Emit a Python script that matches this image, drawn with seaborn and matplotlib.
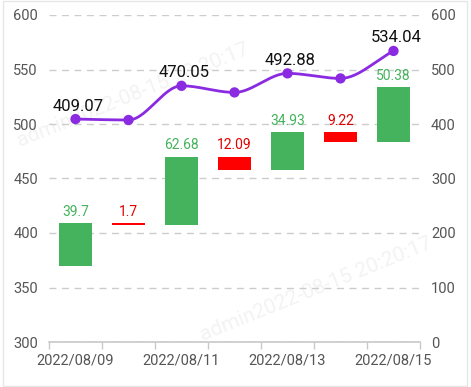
import numpy as np
import pandas as pd
import seaborn as sns
import matplotlib.pyplot as plt
from matplotlib.patches import Rectangle

# data
dates = ["2022/08/09", "2022/08/10", "2022/08/11", "2022/08/12",
         "2022/08/13", "2022/08/14", "2022/08/15"]
changes = [39.7, -1.7, 62.68, -12.09, 34.93, -9.22, 50.38]
totals = [409.07, 407.37, 470.05, 457.96, 492.88, 483.66, 534.04]
shown_totals = [0, 2, 4, 6]
left_ticks = [300, 350, 400, 450, 500, 550, 600]
right_ticks = [0, 100, 200, 300, 400, 500, 600]
watermark = "admin2022-08-15 20:20:17"

GREEN = "#45b35e"
RED = "#ff0000"
PURPLE = "#8a2be2"


def pchip(x, y, xs):
    # monotone cubic, keeps the smooth line from overshooting
    x = np.asarray(x, float)
    y = np.asarray(y, float)
    h = np.diff(x)
    d = np.diff(y) / h
    m = np.zeros_like(y)
    for i in range(1, len(y) - 1):
        if d[i - 1] * d[i] > 0:
            w1 = 2 * h[i] + h[i - 1]
            w2 = h[i] + 2 * h[i - 1]
            m[i] = (w1 + w2) / (w1 / d[i - 1] + w2 / d[i])
    m[0] = d[0]
    m[-1] = d[-1]
    out = np.empty_like(xs)
    for j, xv in enumerate(xs):
        i = min(np.searchsorted(x, xv, side="right") - 1, len(x) - 2)
        t = (xv - x[i]) / h[i]
        h00 = 2 * t**3 - 3 * t**2 + 1
        h10 = t**3 - 2 * t**2 + t
        h01 = -2 * t**3 + 3 * t**2
        h11 = t**3 - t**2
        out[j] = h00 * y[i] + h10 * h[i] * m[i] + h01 * y[i + 1] + h11 * h[i] * m[i + 1]
    return out


sns.set_theme(style="white")
plt.rcParams["font.family"] = ["Roboto", "DejaVu Sans"]

starts = [t - c for t, c in zip(totals, changes)]
df = pd.DataFrame({"date": dates, "size": np.abs(changes),
                   "base": np.minimum(starts, totals)})
colors = [GREEN if c > 0 else RED for c in changes]

fig = plt.figure(figsize=(4.71, 3.87), dpi=100)

# faint watermark, behind everything
for (wx, wy) in [(0.03, 0.62), (0.42, 0.12)]:
    fig.text(wx, wy, watermark, rotation=22, fontsize=15,
             color="#f3f3f3", zorder=-5)

ax = fig.add_axes([49 / 471, 45 / 387, 371 / 471, 327 / 387])
ax.patch.set_alpha(0)

sns.barplot(data=df, x="date", y="size", bottom=df["base"].values, order=dates,
            color=GREEN, width=0.64, saturation=1, ax=ax, zorder=3)
for patch, c in zip(ax.patches, colors):
    patch.set_facecolor(c)
    patch.set_edgecolor("none")

for i, c in enumerate(changes):
    top = max(starts[i], totals[i])
    ax.annotate(f"{abs(c):g}", (i, top), xytext=(0, 3), textcoords="offset points",
                ha="center", va="bottom", fontsize=10,
                color=GREEN if c > 0 else "#e00000", zorder=5)

ax.set_ylim(300, 600)
ax.set_yticks(left_ticks)
ax.set_xlim(-0.5, len(dates) - 0.5)
ax.yaxis.grid(True, linestyle=(0, (5, 4)), color="#cccccc", linewidth=1)
ax.set_axisbelow(True)
ax.set_xlabel("")
ax.set_ylabel("")
for s in ["top", "left", "right"]:
    ax.spines[s].set_visible(False)
ax.spines["bottom"].set_color("#c8c8c8")
ax.spines["bottom"].set_linewidth(1.2)

ax.set_xticks(np.arange(-0.5, len(dates)), labels=[""] * (len(dates) + 1))
ax.set_xticks(shown_totals, labels=[dates[i] for i in shown_totals], minor=True)
ax.tick_params(axis="x", which="major", length=5, color="#c8c8c8", width=1, bottom=True)
ax.tick_params(axis="x", which="minor", length=0, pad=8, labelsize=10.5, labelcolor="#555555")
ax.tick_params(axis="y", length=0, pad=8, labelsize=10.5, labelcolor="#555555")

ax2 = ax.twinx()
xs = np.linspace(0, len(dates) - 1, 300)
smooth = pd.DataFrame({"x": xs, "y": pchip(range(len(totals)), totals, xs)})
sns.lineplot(data=smooth, x="x", y="y", color=PURPLE, linewidth=2, ax=ax2, zorder=4)
pts = pd.DataFrame({"x": range(len(totals)), "y": totals})
sns.scatterplot(data=pts, x="x", y="y", color=PURPLE, s=55, edgecolor="none", ax=ax2, zorder=5)
for i in shown_totals:
    ax2.annotate(f"{totals[i]:.2f}", (i, totals[i]), xytext=(2, 4), textcoords="offset points",
                 ha="center", va="bottom", fontsize=12, color="#111111", zorder=6)

ax2.set_ylim(0, 600)
ax2.set_yticks(right_ticks)
ax2.set_xlim(-0.5, len(dates) - 0.5)
ax2.set_xlabel("")
ax2.set_ylabel("")
for s in ["top", "left", "right", "bottom"]:
    ax2.spines[s].set_visible(False)
ax2.tick_params(axis="y", length=0, pad=8, labelsize=10.5, labelcolor="#555555")

# thin frame around the figure
fig.patches.append(Rectangle((0.006, 0.003), 0.986, 0.994, transform=fig.transFigure,
                             fill=False, edgecolor="#e6e6e6", linewidth=1))

fig.savefig("out.png", dpi=100)
